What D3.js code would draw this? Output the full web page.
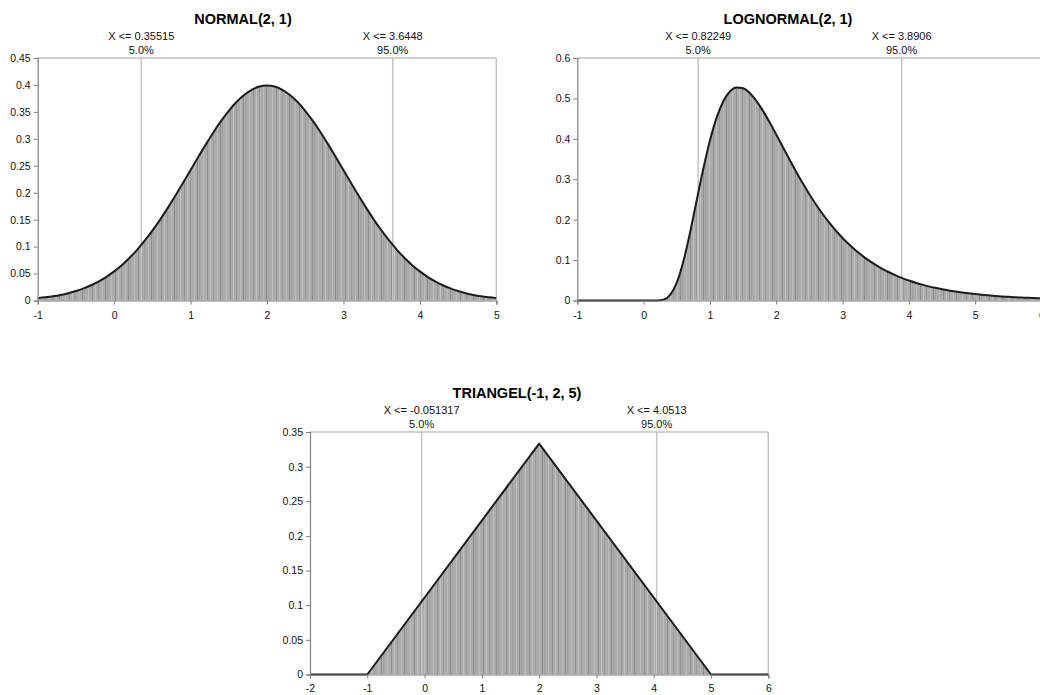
<!DOCTYPE html>
<html>
<head>
<meta charset="utf-8">
<script src="https://cdn.jsdelivr.net/npm/d3@7"></script>
<style>
  html, body { margin: 0; padding: 0; background: #fff; }
  svg { display: block; font-family: "Liberation Sans", Arial, sans-serif; }
</style>
</head>
<body>
<svg id="chart" width="1040" height="695"></svg>
<script>
// ---------------- DATA ----------------
const titles = ["NORMAL(2, 1)", "LOGNORMAL(2, 1)", "TRIANGEL(-1, 2, 5)"];

// NORMAL(2,1) density, x from -1 to 5 in steps of 0.1
const normalStart = -1, normalStep = 0.1;
const normalY = [
  0.0044, 0.0060, 0.0079, 0.0104, 0.0136, 0.0175, 0.0224, 0.0283, 0.0355, 0.0440,
  0.0540, 0.0656, 0.0790, 0.0940, 0.1109, 0.1295, 0.1497, 0.1714, 0.1942, 0.2179,
  0.2420, 0.2661, 0.2897, 0.3123, 0.3332, 0.3521, 0.3683, 0.3814, 0.3910, 0.3970,
  0.3989,
  0.3970, 0.3910, 0.3814, 0.3683, 0.3521, 0.3332, 0.3123, 0.2897, 0.2661, 0.2420,
  0.2179, 0.1942, 0.1714, 0.1497, 0.1295, 0.1109, 0.0940, 0.0790, 0.0656, 0.0540,
  0.0440, 0.0355, 0.0283, 0.0224, 0.0175, 0.0136, 0.0104, 0.0079, 0.0060, 0.0044
];

// LOGNORMAL(2,1) density, x from -1 to 6 in steps of 0.1
const lognormStart = -1, lognormStep = 0.1;
const lognormY = [
  0, 0, 0, 0, 0, 0, 0, 0, 0, 0, 0, 0,
  0.0001, 0.0022, 0.0138, 0.0443, 0.0971, 0.1678, 0.2474, 0.3259, 0.3958, 0.4520,
  0.4924, 0.5170, 0.5273, 0.5252, 0.5133, 0.4939, 0.4692, 0.4409, 0.4106, 0.3796,
  0.3488, 0.3187, 0.2900, 0.2628, 0.2374, 0.2140, 0.1924, 0.1726, 0.1547, 0.1384,
  0.1237, 0.1105, 0.0986, 0.0879, 0.0784, 0.0699, 0.0623, 0.0555, 0.0495, 0.0441,
  0.0393, 0.0350, 0.0313, 0.0279, 0.0249, 0.0222, 0.0198, 0.0177, 0.0158, 0.0142,
  0.0127, 0.0113, 0.0101, 0.0091, 0.0081, 0.0073, 0.0066, 0.0059, 0.0053
];

// TRIANGEL(-1,2,5) density vertices
const triX = [-2, -1, 2, 5, 6];
const triY = [0, 0, 0.3333, 0, 0];

// percentile markers
const normalPct = [0.35515, 3.6448];
const normalPctText = ["X <= 0.35515", "X <= 3.6448"];
const lognormPct = [0.82249, 3.8906];
const lognormPctText = ["X <= 0.82249", "X <= 3.8906"];
const triPct = [-0.051317, 4.0513];
const triPctText = ["X <= -0.051317", "X <= 4.0513"];
const pctLabels = ["5.0%", "95.0%"];

// tick labels
const normalXTicks = [-1, 0, 1, 2, 3, 4, 5];
const normalYTicks = [0, 0.05, 0.1, 0.15, 0.2, 0.25, 0.3, 0.35, 0.4, 0.45];
const lognormXTicks = [-1, 0, 1, 2, 3, 4, 5, 6];
const lognormYTicks = [0, 0.1, 0.2, 0.3, 0.4, 0.5, 0.6];
const triXTicks = [-2, -1, 0, 1, 2, 3, 4, 5, 6];
const triYTicks = [0, 0.05, 0.1, 0.15, 0.2, 0.25, 0.3, 0.35];

// ---------------- BUILD POINTS ----------------
const normalPts = normalY.map((y, i) => ({ x: +(normalStart + i * normalStep).toFixed(2), y }));
const lognormPts = lognormY.map((y, i) => ({ x: +(lognormStart + i * lognormStep).toFixed(2), y }));
const triPts = triX.map((x, i) => ({ x, y: triY[i] }));

const charts = [
  { title: titles[0], pts: normalPts, curve: d3.curveMonotoneX,
    left: 37.7, right: 496.3, top: 58, bottom: 300.5,
    xDom: [-1, 5], yDom: [0, 0.45], xTicks: normalXTicks, yTicks: normalYTicks,
    pct: normalPct, pctText: normalPctText, titleX: 243, xPad: 7 },
  { title: titles[1], pts: lognormPts, curve: d3.curveMonotoneX,
    left: 577.3, right: 1041.5, top: 58, bottom: 300.5,
    xDom: [-1, 6], yDom: [0, 0.6], xTicks: lognormXTicks, yTicks: lognormYTicks,
    pct: lognormPct, pctText: lognormPctText, titleX: 788, xPad: 7 },
  { title: titles[2], pts: triPts, curve: d3.curveLinear,
    left: 310, right: 768.3, top: 432, bottom: 674.5,
    xDom: [-2, 6], yDom: [0, 0.35], xTicks: triXTicks, yTicks: triYTicks,
    pct: triPct, pctText: triPctText, titleX: 517, xPad: 6 }
];

const svg = d3.select("#chart");
svg.append("rect").attr("width", 1040).attr("height", 695).attr("fill", "#fff");

// stripe texture (histogram look)
const defs = svg.append("defs");
const pat = defs.append("pattern").attr("id", "stripes")
  .attr("patternUnits", "userSpaceOnUse").attr("width", 23).attr("height", 10);
pat.append("rect").attr("width", 23).attr("height", 10).attr("fill", "#ababab");
const stripeDefs = [[0.5, "#909090"], [3.5, "#c0c0c0"], [6.5, "#9a9a9a"],
                    [10.5, "#bababa"], [13.5, "#8e8e8e"], [15.5, "#a0a0a0"], [19.5, "#bdbdbd"]];
stripeDefs.forEach(([x, c]) => pat.append("line")
  .attr("x1", x).attr("x2", x).attr("y1", 0).attr("y2", 10)
  .attr("stroke", c).attr("stroke-width", 1));

const fmt = d => String(d);

charts.forEach(c => {
  const x = d3.scaleLinear().domain(c.xDom).range([c.left, c.right]);
  const y = d3.scaleLinear().domain(c.yDom).range([c.bottom, c.top]);
  const g = svg.append("g");

  // area
  const area = d3.area().x(d => x(d.x)).y0(y(0)).y1(d => y(d.y)).curve(c.curve);
  g.append("path").datum(c.pts).attr("d", area).attr("fill", "url(#stripes)");

  // percentile lines
  c.pct.forEach((p, i) => {
    g.append("line").attr("x1", x(p)).attr("x2", x(p))
      .attr("y1", c.top).attr("y2", c.bottom)
      .attr("stroke", "#c4c4c4").attr("stroke-width", 1.5);
    g.append("text").attr("x", x(p)).attr("y", c.top - 18)
      .attr("text-anchor", "middle").attr("font-size", 11).attr("fill", "#111")
      .text(c.pctText[i]);
    g.append("text").attr("x", x(p)).attr("y", c.top - 4.5)
      .attr("text-anchor", "middle").attr("font-size", 11).attr("fill", "#111")
      .text(pctLabels[i]);
  });

  // top & right borders
  g.append("line").attr("x1", c.left).attr("x2", c.right).attr("y1", c.top).attr("y2", c.top)
    .attr("stroke", "#c0c0c0").attr("stroke-width", 1.5);
  g.append("line").attr("x1", c.right).attr("x2", c.right).attr("y1", c.top).attr("y2", c.bottom)
    .attr("stroke", "#c0c0c0").attr("stroke-width", 1.5);

  // curve
  const line = d3.line().x(d => x(d.x)).y(d => y(d.y)).curve(c.curve);
  g.append("path").datum(c.pts).attr("d", line)
    .attr("fill", "none").attr("stroke", "#1c1c1c").attr("stroke-width", 2)
    .attr("stroke-linejoin", "round");

  // axes
  const ya = g.append("g").attr("transform", `translate(${c.left},0)`)
    .call(d3.axisLeft(y).tickValues(c.yTicks).tickFormat(fmt).tickSize(4).tickPadding(3));
  const xa = g.append("g").attr("transform", `translate(0,${c.bottom})`)
    .call(d3.axisBottom(x).tickValues(c.xTicks).tickFormat(fmt).tickSize(4).tickPadding(c.xPad));
  [ya, xa].forEach(a => {
    a.select(".domain").attr("stroke", "#808080").attr("stroke-width", 1.2);
    a.selectAll(".tick line").attr("stroke", "#808080");
    a.selectAll(".tick text").attr("font-size", 10.5).attr("fill", "#111")
      .attr("font-family", "Liberation Sans, Arial, sans-serif");
  });

  // title
  g.append("text").attr("x", c.titleX).attr("y", c.top - 34.5)
    .attr("text-anchor", "middle").attr("font-size", 14.5).attr("font-weight", "bold")
    .attr("fill", "#000").text(c.title);
});
</script>
</body>
</html>
